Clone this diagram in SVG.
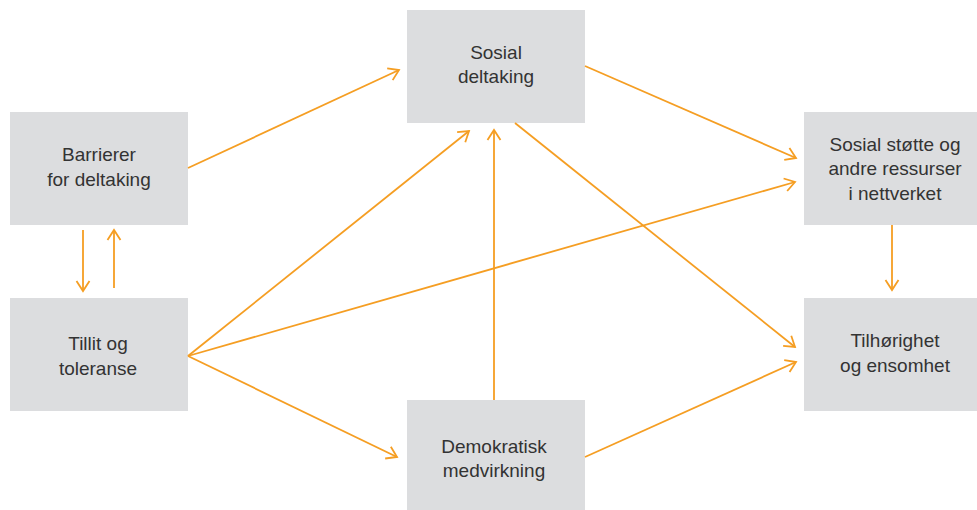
<svg xmlns="http://www.w3.org/2000/svg" width="977" height="510" viewBox="0 0 977 510">
<style>
.box{fill:#DCDDDF}
.t{font-family:"Liberation Sans",Arial,sans-serif;font-size:19px;fill:#333;text-anchor:middle}
.c{stroke:#F59E23;stroke-width:1.8;fill:none;marker-end:url(#ah)}
</style>
<defs>
<marker id="ah" markerUnits="userSpaceOnUse" markerWidth="16" markerHeight="16" viewBox="-12 -8 14 16" refX="0" refY="0" orient="auto">
<path d="M-10,-6.5 L0,0 L-10,6.5" fill="none" stroke="#F59E23" stroke-width="1.8"/>
</marker>
</defs>
<rect width="977" height="510" fill="#fff"/>
<g id="barrierer"><rect class="box" x="10" y="112" width="178" height="113"/><text class="t" x="99" y="161">Barrierer</text><text class="t" x="99" y="186">for deltaking</text></g>
<g id="tillit"><rect class="box" x="10" y="298" width="178" height="113"/><text class="t" x="98" y="350">Tillit og</text><text class="t" x="98" y="375">toleranse</text></g>
<g id="sosial-deltaking"><rect class="box" x="407" y="10" width="178" height="113"/><text class="t" x="496" y="59">Sosial</text><text class="t" x="496" y="83">deltaking</text></g>
<g id="demokratisk"><rect class="box" x="407" y="400" width="178" height="113"/><text class="t" x="494" y="453">Demokratisk</text><text class="t" x="494" y="477">medvirkning</text></g>
<g id="sosial-stotte"><rect class="box" x="804" y="112" width="182" height="113"/><text class="t" x="895" y="151">Sosial støtte og</text><text class="t" x="895" y="175">andre ressurser</text><text class="t" x="895" y="200">i nettverket</text></g>
<g id="tilhorighet"><rect class="box" x="804" y="298" width="182" height="113"/><text class="t" x="895" y="347">Tilhørighet</text><text class="t" x="895" y="372">og ensomhet</text></g>
<g id="connectors">
<line class="c" x1="188" y1="168" x2="399" y2="70"/>
<line class="c" x1="188" y1="356" x2="469" y2="131"/>
<line class="c" x1="188" y1="356" x2="795" y2="182"/>
<line class="c" x1="188" y1="356" x2="397" y2="457"/>
<line class="c" x1="585" y1="66" x2="796" y2="158"/>
<line class="c" x1="515" y1="123" x2="795" y2="347"/>
<line class="c" x1="585" y1="457" x2="796" y2="362"/>
<line class="c" x1="494" y1="400" x2="494" y2="130"/>
<line class="c" x1="83" y1="230" x2="83" y2="291"/>
<line class="c" x1="114" y1="288" x2="114" y2="230"/>
<line class="c" x1="892" y1="225" x2="892" y2="290"/>
</g>
</svg>
